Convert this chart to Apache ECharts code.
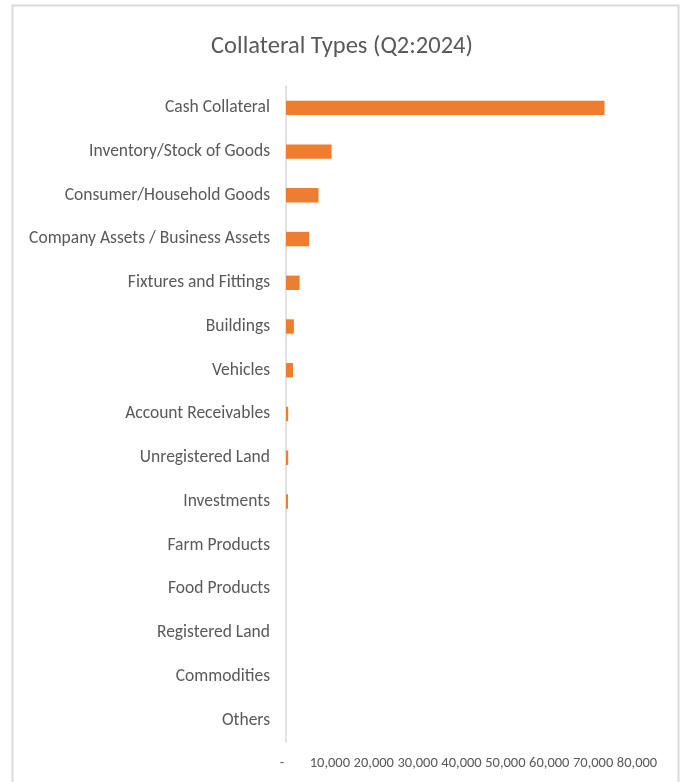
<!DOCTYPE html>
<html>
<head>
<meta charset="utf-8">
<title>Collateral Types (Q2:2024)</title>
<script src="https://cdn.jsdelivr.net/npm/echarts@6/dist/echarts.min.js"></script>
<style>
  html, body { margin: 0; padding: 0; background: #ffffff; }
  #chart { width: 684px; height: 782px; }
</style>
</head>
<body>
<div id="chart"></div>
<script>
// Collateral categories, top to bottom
const categories = [
  'Cash Collateral',
  'Inventory/Stock of Goods',
  'Consumer/Household Goods',
  'Company Assets / Business Assets',
  'Fixtures and Fittings',
  'Buildings',
  'Vehicles',
  'Account Receivables',
  'Unregistered Land',
  'Investments',
  'Farm Products',
  'Food Products',
  'Registered Land',
  'Commodities',
  'Others'
];

// Number of registrations per collateral type
const values = [72600, 10400, 7400, 5300, 3100, 1800, 1600, 500, 500, 450, 0, 0, 0, 0, 0];

// Value axis range and step
const axisMin = 0;
const axisMax = 80000;
const axisStep = 10000;

const FONT = 'Carlito, Lato, "Open Sans", sans-serif';
const TEXT = '#595959';

const chart = echarts.init(document.getElementById('chart'), null, { renderer: 'canvas' });

chart.setOption({
  backgroundColor: '#ffffff',
  animation: false,
  title: {
    text: 'Collateral Types (Q2:2024)',
    left: 'center',
    top: 29,
    textStyle: { color: TEXT, fontFamily: FONT, fontSize: 24.5, fontWeight: 'normal' }
  },
  graphic: [{
    type: 'rect',
    shape: { x: 12.5, y: 5.5, width: 666, height: 820 },
    style: { fill: 'none', stroke: '#d9d9d9', lineWidth: 2 },
    silent: true
  }],
  grid: { left: 286, right: 47, top: 86, bottom: 40, containLabel: false },
  xAxis: {
    type: 'value',
    min: axisMin,
    max: axisMax,
    interval: axisStep,
    axisLine: { show: false },
    axisTick: { show: false },
    splitLine: { show: false },
    axisLabel: {
      color: TEXT,
      fontFamily: FONT,
      fontSize: 14.5,
      margin: 14,
      formatter: v => v === 0 ? '{dash|-}' : v.toLocaleString('en-US'),
      rich: { dash: { color: TEXT, fontFamily: FONT, fontSize: 14.5, padding: [0, 8, 0, 0] } }
    }
  },
  yAxis: {
    type: 'category',
    data: categories,
    inverse: true,
    axisLine: { show: true, lineStyle: { color: '#d9d9d9', width: 1.5 } },
    axisTick: { show: false },
    axisLabel: { color: TEXT, fontFamily: FONT, fontSize: 17.5, margin: 16 }
  },
  series: [{
    type: 'bar',
    data: values,
    barWidth: '33%',
    itemStyle: { color: '#ED7D31' }
  }]
});
</script>
</body>
</html>
